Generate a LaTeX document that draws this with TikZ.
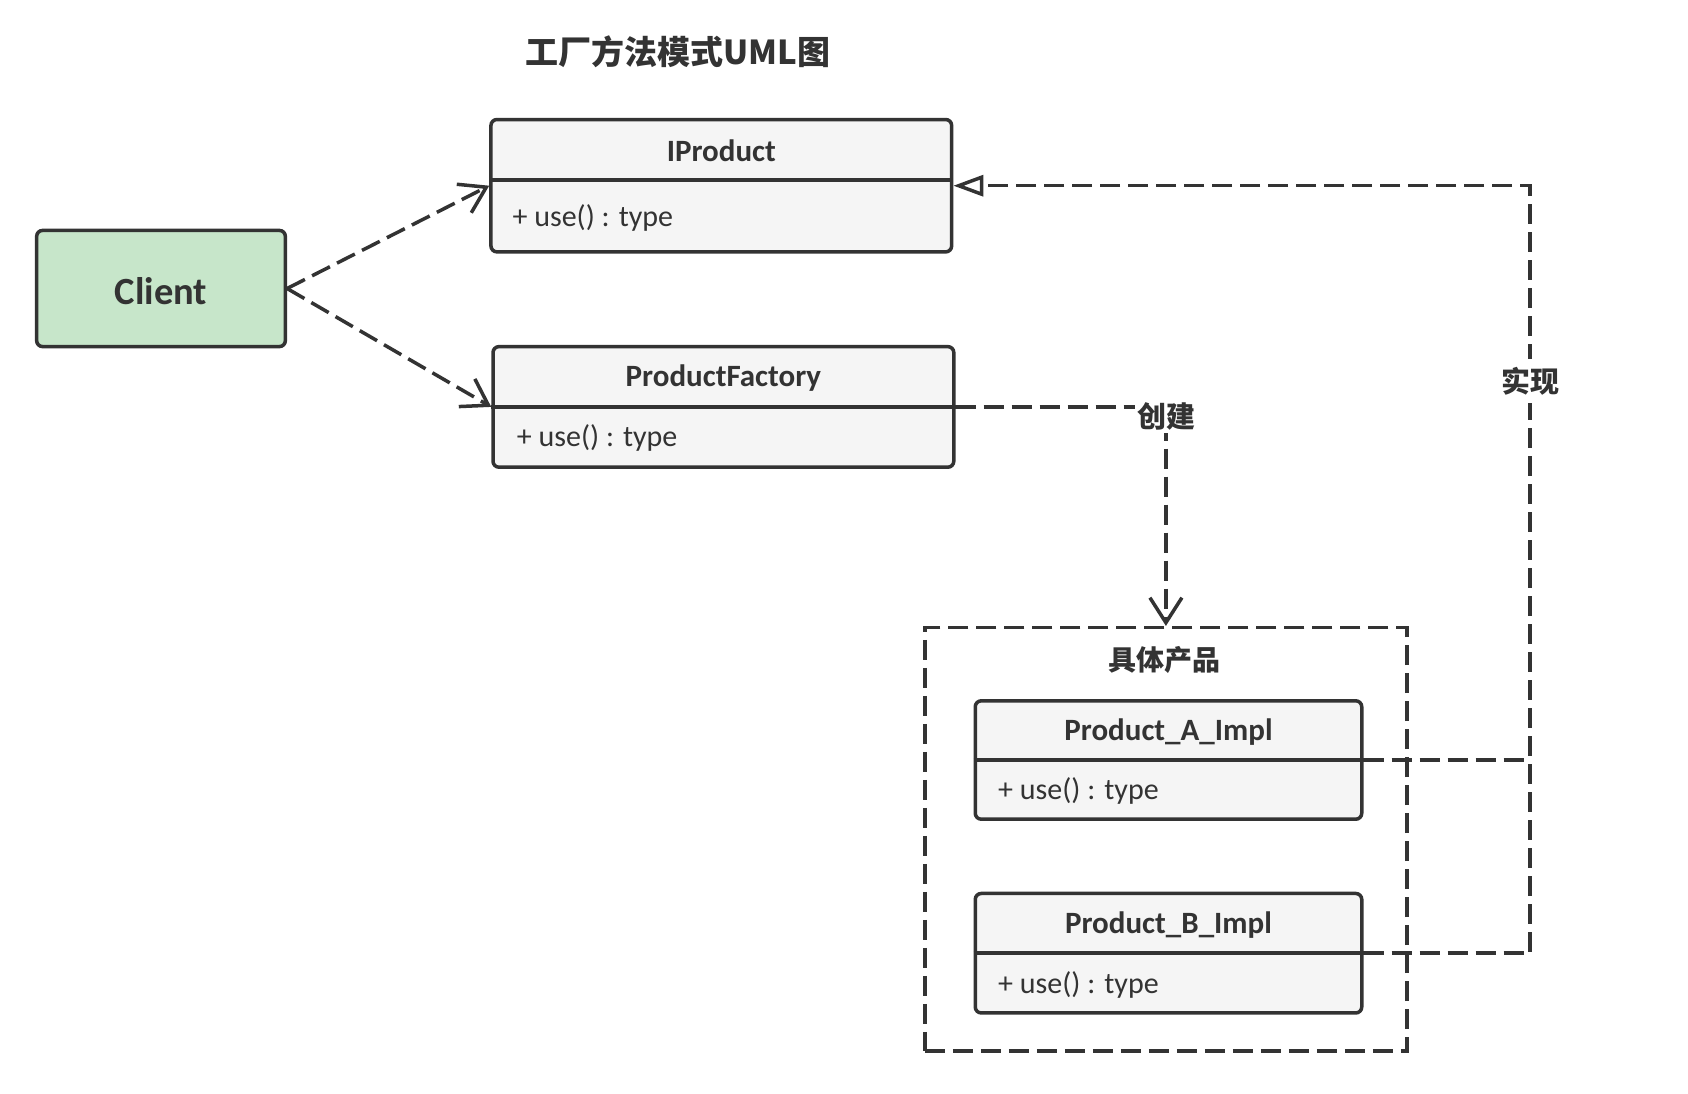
\documentclass[tikz,border=0pt]{standalone}
\usepackage{fontspec}
\setmainfont{Carlito}
\newfontfamily\cjk{Noto Sans CJK SC}
\usetikzlibrary{arrows.meta}
\definecolor{ink}{HTML}{333333}
\definecolor{hdr}{HTML}{F5F5F5}
\definecolor{clientgreen}{HTML}{C7E6CA}
\tikzset{
  classbox/.style={draw=ink, line width=3.5pt, rounded corners=6pt, fill=hdr, inner sep=0pt},
  clientbox/.style={draw=ink, line width=3.5pt, rounded corners=6pt, fill=clientgreen, inner sep=0pt},
  divider/.style={draw=ink, line width=3.5pt},
  ctitle/.style={text=ink, font=\fontsize{31}{36}\selectfont\bfseries, inner sep=0pt},
  cattr/.style={text=ink, font=\fontsize{30}{36}\selectfont, inner sep=0pt, anchor=west},
  cjklabel/.style={text=ink, font=\cjk\fontsize{29}{34}\selectfont\bfseries, fill=white, inner sep=3pt},
  dashline/.style={draw=ink, line width=3.5pt, dash pattern=on 20pt off 8pt},
  deparrow/.style={dashline, -{Straight Barb[length=25pt,width=32pt]}},
  realarrow/.style={dashline, -{Triangle[open,length=30pt,width=21pt,fill=white]}},
  container/.style={draw=ink, line width=3.5pt, dash pattern=on 20pt off 8pt, inner sep=0pt}
}
\begin{document}
\begin{tikzpicture}[x=1pt,y=-1pt]
\useasboundingbox[fill=white] (0,0) rectangle (1688,1093);

% title
\node[text=ink, font=\cjk\fontsize{33}{38}\selectfont\bfseries, inner sep=0pt] (title) at (678,52) {工厂方法模式UML图};

% Client
\node[clientbox, minimum width=248.7pt, minimum height=116.2pt] (client) at (161,288.5) {};
\node[text=ink, font=\fontsize{38.5}{44}\selectfont\bfseries, inner sep=0pt] (clientt) at (161,291) {Client};

% IProduct
\node[classbox, minimum width=460.7pt, minimum height=132.4pt] (ip) at (721.3,185.7) {};
\coordinate (ipd) at (0,179.8);
\draw[divider] (ip.west |- ipd) -- (ip.east |- ipd);
\node[ctitle] (ipt) at (721.3,150.7) {IProduct};
\node[cattr] (ipa) at (512.4,217.5) {+ use() : type};

% ProductFactory
\node[classbox, minimum width=460.8pt, minimum height=120.6pt] (pf) at (723.4,406.9) {};
\draw[divider] (pf.west) -- (pf.east);
\node[ctitle] (pft) at (723.4,377.9) {ProductFactory};
\node[cattr] (pfa) at (516.7,438.1) {+ use() : type};

% container
\node[container, minimum width=482.3pt, minimum height=423.1pt] (cont) at (1165.9,839.2) {};
\node[text=ink, font=\cjk\fontsize{28}{33}\selectfont\bfseries, inner sep=0pt] (contt) at (1164.8,660) {具体产品};

% Product_A_Impl
\node[classbox, minimum width=386.5pt, minimum height=118.4pt] (pa) at (1168.5,760) {};
\draw[divider] (pa.west) -- (pa.east);
\node[ctitle] (pat) at (1168.5,732) {Product\_A\_Impl};
\node[cattr] (paa) at (998,791) {+ use() : type};

% Product_B_Impl
\node[classbox, minimum width=386.5pt, minimum height=119.5pt] (pb) at (1168.5,953.2) {};
\draw[divider] (pb.west) -- (pb.east);
\node[ctitle] (pbt) at (1168.5,924.7) {Product\_B\_Impl};
\node[cattr] (pba) at (998,985) {+ use() : type};

% Client dependencies
\draw[deparrow] (client.east) -- (ip.west);
\draw[deparrow] (client.east) -- (pf.west);

% create dependency
\draw[deparrow] (pf.east) -| (cont.north);
\node[cjklabel] (create) at (1166.5,416.5) {创建};

% realization
\coordinate (rtop) at (1530,185.7);
\draw[realarrow] (pb.east) -| (rtop) -- (ip.east);
\draw[dashline] (pa.east) -- (pa.east -| rtop);
\node[cjklabel, inner ysep=8pt] (impl) at (1530.8,381) {实现};
\end{tikzpicture}
\end{document}
